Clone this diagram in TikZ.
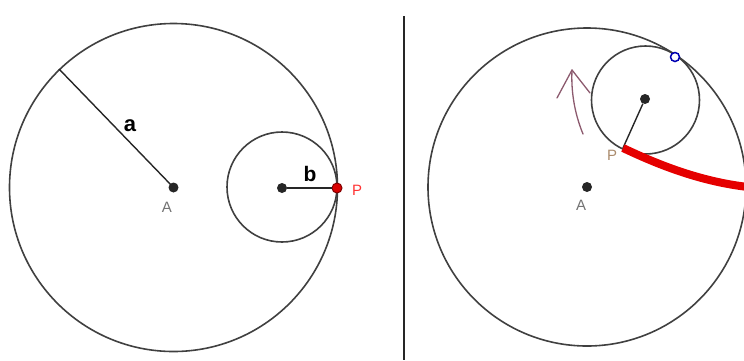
\documentclass[tikz,border=0pt]{standalone}
\usepackage{fontspec}
\setmainfont{Liberation Sans}
\begin{document}
\begin{tikzpicture}[x=1pt,y=-1pt,
  circ/.style={draw=black!75, line width=1.6pt},
  dotpt/.style={circle, fill=black!85, inner sep=0pt, minimum size=10pt},
  lbl/.style={font=\fontsize{15}{15}\selectfont, text=black!55},
  seg/.style={draw=black!85, line width=1.4pt}]
\useasboundingbox (0,0) rectangle (744,360);
\clip (0,0) rectangle (744,360);
% ---------- left panel ----------
\coordinate (A1) at (173.5,187.5);
\coordinate (R1) at (59,69);
\draw[circ] (A1) circle[radius=164];
\draw[circ] (282,187) circle[radius=55];
\draw[seg] (A1) -- (R1);
\node[dotpt] (dA1) at (A1) {};
\node[dotpt] (dC1) at (282,188) {};
\node[circle, fill=red!85!black, draw=red!50!black, line width=1pt, inner sep=0pt, minimum size=10pt] (P1) at (337,188) {};
\draw[seg] (dC1) -- (P1);
\node[font=\bfseries\fontsize{22}{22}\selectfont] (la) at (130,126) {a};
\node[font=\bfseries\fontsize{21}{21}\selectfont] (lb) at (310,174) {b};
\node[lbl] (lA1) at (167,207) {A};
\node[font=\fontsize{15}{15}\selectfont, text=red!80] (lP1) at (357,190) {P};
% ---------- divider ----------
\coordinate (v1) at (404,16);
\coordinate (v2) at (404,360);
\draw[black!85, line width=1.6pt] (v1) -- (v2);
% ---------- right panel ----------
\coordinate (A2) at (587,187);
\draw[circ] (A2) circle[radius=159];
\draw[circ] (645.5,100) circle[radius=54];
\node[dotpt] (dA2) at (A2) {};
\node[dotpt] (dC2) at (645,99) {};
\coordinate (P2) at (623,148);
\coordinate (E2) at (748,187);
\draw[seg] (dC2) -- (P2);
\draw[red!90!black, line width=8pt] (P2) .. controls (665,168) and (705,182) .. (E2);
\node[circle, draw=blue!70!black, line width=1.5pt, fill=white, inner sep=0pt, minimum size=9pt] (T2) at (675,57) {};
\node[lbl] (lA2) at (581,205) {A};
\node[font=\fontsize{15}{15}\selectfont, text=brown!70!black!70] (lP2) at (612,155) {P};
% purple hand-drawn arrow
\coordinate (q1) at (583,134);
\coordinate (q2) at (572,70);
\coordinate (q3) at (557,98);
\coordinate (q4) at (590,93);
\draw[draw={rgb,255:red,140;green,90;blue,110}, line width=1.3pt, line cap=round]
  (q1) .. controls (574,112) and (571,90) .. (q2);
\draw[draw={rgb,255:red,140;green,90;blue,110}, line width=1.3pt, line cap=round, line join=round]
  (q3) -- (q2) -- (q4);
\end{tikzpicture}
\end{document}
